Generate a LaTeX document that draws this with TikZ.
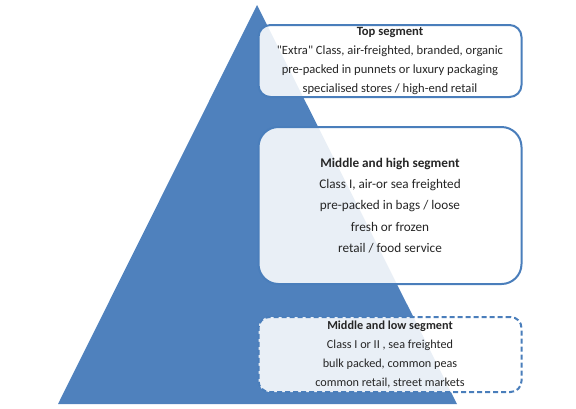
\documentclass[tikz,border=0pt]{standalone}
\usepackage{fontspec}
\setmainfont{Carlito}
\definecolor{triblue}{HTML}{4F81BD}
\definecolor{edgeblue}{HTML}{4A7EBB}
\definecolor{txt}{HTML}{262626}
\begin{document}
\begin{tikzpicture}[x=1pt,y=-1pt,
  segbox/.style={draw=edgeblue, line width=2pt, fill=white, fill opacity=0.88, text opacity=1,
     text=txt, align=center, inner sep=0pt, minimum width=263pt},
]
\useasboundingbox (0,0) rectangle (576,408);
\fill[triblue] (257,5) -- (457,404) -- (58,404) -- cycle;
\node[segbox, rounded corners=12pt, minimum height=72pt,
  font=\fontsize{12.6}{18.7}\selectfont] (top) at (390,61)
  {\textbf{Top segment}\\ \textquotedbl Extra\textquotedbl{} Class, air-freighted, branded, organic\\
   pre-packed in punnets or luxury packaging\\ specialised stores / high-end retail};
\node[segbox, rounded corners=20pt, minimum height=157pt,
  font=\fontsize{13.2}{21.3}\selectfont] (mid) at (390,205.5)
  {\textbf{Middle and high segment}\\ Class I, air-or sea freighted\\
   pre-packed in bags / loose\\ fresh or frozen\\ retail / food service};
\node[segbox, rounded corners=11pt, minimum height=75pt, dash pattern=on 5pt off 3pt,
  font=\fontsize{12.2}{18.7}\selectfont] (low) at (390,354.5)
  {\textbf{Middle and low segment}\\ Class I or II , sea freighted\\
   bulk packed, common peas\\ common retail, street markets};
\end{tikzpicture}
\end{document}
